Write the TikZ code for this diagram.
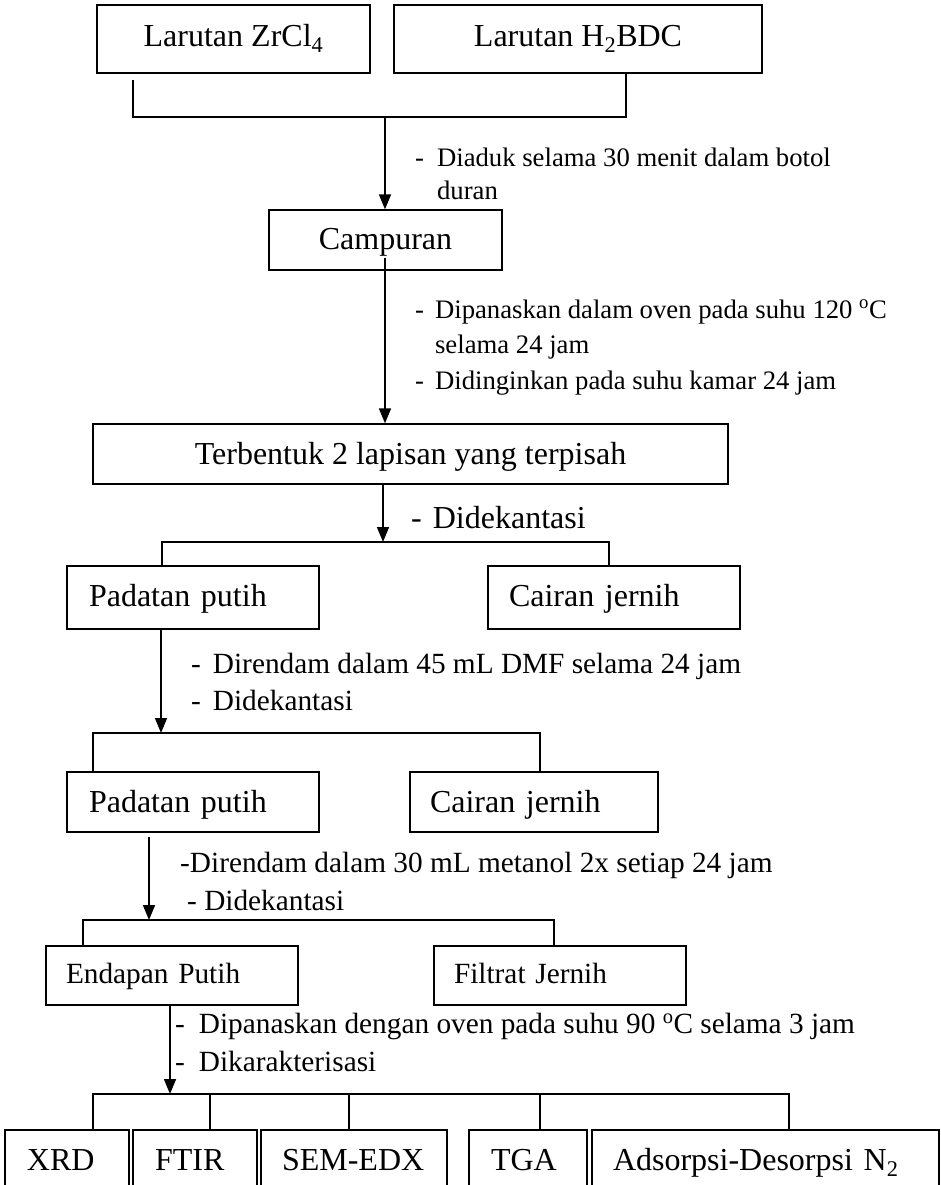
\documentclass[tikz,border=0pt]{standalone}
\usepackage{fontspec}
\setmainfont{Liberation Serif}
\usetikzlibrary{arrows.meta}
\begin{document}
\begin{tikzpicture}[x=1pt,y=-1pt,
  box/.style={draw, line width=1.3pt, inner sep=0pt, text depth=0pt},
  big/.style={font=\fontsize{32}{38}\selectfont},
  mid/.style={font=\fontsize{29.3}{35}\selectfont},
  conn/.style={line width=1.2pt},
  arr/.style={line width=1.6pt, -{Triangle[length=15pt,width=12pt]}},
  note/.style={anchor=base west, inner sep=0pt}
]
\useasboundingbox (0,0) rectangle (940,1185);
\fill[white] (0,0) rectangle (940,1185);
\clip (0,0) rectangle (940,1185);

% starting solutions
\node[box, big, minimum width=273, minimum height=68, text height=15] (zr) at (233.5,39) {Larutan ZrCl\textsubscript{4}};
\node[box, big, minimum width=368, minimum height=68, text height=15] (hb) at (578,39) {Larutan H\textsubscript{2}BDC};

% mixture and separated layers
\node[box, big, minimum width=233, minimum height=60, text height=18] (camp) at (385.5,240) {Campuran};
\node[box, big, minimum width=635, minimum height=60, text height=20] (terb) at (410.5,454) {Terbentuk 2 lapisan yang terpisah};

% first decantation
\node[box, big, align=left, text width=208, inner xsep=22, minimum height=63, text height=17] (pad1) at (193,597.5) {Padatan putih};
\node[box, big, align=left, text width=210, inner xsep=21, minimum height=63, text height=17] (cair1) at (614,597.5) {Cairan jernih};

% DMF soak
\node[box, big, align=left, text width=208, inner xsep=22, minimum height=60, text height=20] (pad2) at (193,802) {Padatan putih};
\node[box, big, align=left, text width=208, inner xsep=20, minimum height=60, text height=20] (cair2) at (534,802) {Cairan jernih};

% methanol soak
\node[box, mid, align=left, text width=212, inner xsep=20, minimum height=59, text height=15] (endap) at (172,975.5) {Endapan Putih};
\node[box, mid, align=left, text width=212, inner xsep=20, minimum height=59, text height=15] (filt) at (560,975.5) {Filtrat Jernih};

% characterisation
\node[box, big, align=left, text width=80, inner xsep=22, minimum height=70, text height=10] (xrd) at (67,1165) {XRD};
\node[box, big, align=left, text width=80, inner xsep=22, minimum height=70, text height=10] (ftir) at (195,1165) {FTIR};
\node[box, big, align=left, text width=144, inner xsep=21, minimum height=70, text height=10] (sem) at (354,1165) {SEM-EDX};
\node[box, big, align=left, text width=74, inner xsep=22, minimum height=70, text height=10] (tga) at (528,1165) {TGA};
\node[box, big, align=left, text width=305, inner xsep=21, minimum height=70, text height=10] (ads) at (765.5,1165) {Adsorpsi-Desorpsi N\textsubscript{2}};

% junction points
\coordinate (zrT) at (133,80);
\coordinate (hbT) at (626,73);
\coordinate (m1) at (385,117);
\coordinate (m2) at (383,542);
\coordinate (b2L) at (162,542);
\coordinate (b2R) at (609,542);
\coordinate (m3) at (161,733);
\coordinate (b3L) at (93,733);
\coordinate (b3R) at (540,733);
\coordinate (s4) at (149,837);
\coordinate (m4) at (149,920);
\coordinate (b4L) at (83,920);
\coordinate (b4R) at (554,920);
\coordinate (m5) at (170,1094);
\coordinate (b5L) at (93,1094);
\coordinate (d2) at (210,1094);
\coordinate (d3) at (349,1094);
\coordinate (d4) at (540,1094);
\coordinate (b5R) at (789,1094);

% connectors
\draw[conn] (zrT) |- (hbT |- m1) -- (hbT);
\draw[arr] (m1) -- (m1 |- camp.north);

\draw[arr] ([yshift=13pt]camp.south -| m1) -- (m1 |- terb.north);

\draw[arr] (terb.south -| m2) -- (m2);
\draw[conn] (pad1.north -| b2L) -- (b2L) -- (b2R) -- (cair1.north -| b2R);

\draw[arr] (pad1.south -| m3) -- (m3);
\draw[conn] (pad2.north -| b3L) -- (b3L) -- (b3R) -- (cair2.north -| b3R);

\draw[arr] (s4) -- (m4);
\draw[conn] (endap.north -| b4L) -- (b4L) -- (b4R) -- (filt.north -| b4R);

\draw[arr] (endap.south -| m5) -- (m5);
\draw[conn] (xrd.north -| b5L) -- (b5L) -- (b5R) -- (ads.north -| b5R);
\draw[conn] (d2) -- (ftir.north -| d2);
\draw[conn] (d3) -- (sem.north -| d3);
\draw[conn] (d4) -- (tga.north -| d4);

% process notes
\node[note, font=\fontsize{26.7}{33}\selectfont] (lab1) at (415,167)
  {\begin{tabular}[t]{@{}l@{\hspace{13pt}}l@{}}-&Diaduk selama 30 menit dalam botol\\&duran\end{tabular}};
\node[note, font=\fontsize{26.7}{35.5}\selectfont] (lab2) at (415,318)
  {\begin{tabular}[t]{@{}l@{\hspace{11pt}}l@{}}-&Dipanaskan dalam oven pada suhu 120 \textsuperscript{o}C\\&selama 24 jam\\-&Didinginkan pada suhu kamar 24 jam\end{tabular}};
\node[note, font=\fontsize{32}{38}\selectfont] (lab3) at (411,528) {-\hspace{11pt}Didekantasi};
\node[note, font=\fontsize{29.3}{37}\selectfont] (lab4) at (191,673)
  {\begin{tabular}[t]{@{}l@{\hspace{12pt}}l@{}}-&Direndam dalam 45 mL DMF selama 24 jam\\-&Didekantasi\end{tabular}};
\node[note, font=\fontsize{29.3}{37}\selectfont] (lab5a) at (180,872) {-Direndam dalam 30 mL metanol 2x setiap 24 jam};
\node[note, font=\fontsize{29.3}{37}\selectfont] (lab5b) at (187,910) {- Didekantasi};
\node[note, font=\fontsize{29.3}{38}\selectfont] (lab6) at (175,1033)
  {\begin{tabular}[t]{@{}l@{\hspace{14pt}}l@{}}-&Dipanaskan dengan oven pada suhu 90 \textsuperscript{o}C selama 3 jam\\-&Dikarakterisasi\end{tabular}};
\end{tikzpicture}
\end{document}
